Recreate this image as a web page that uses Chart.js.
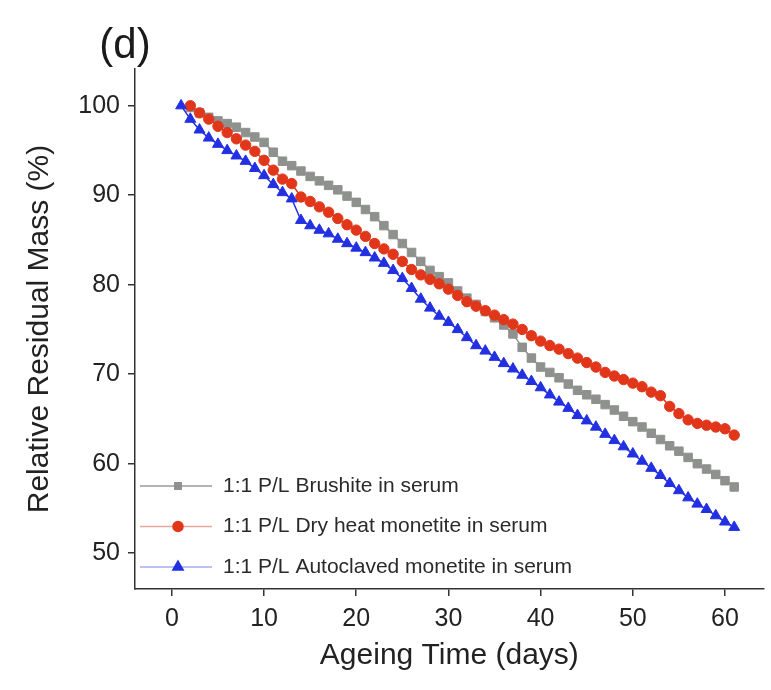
<!DOCTYPE html>
<html>
<head>
<meta charset="utf-8">
<script src="https://cdn.jsdelivr.net/npm/chart.js@4.4.1/dist/chart.umd.min.js"></script>
<style>
  html, body { margin: 0; padding: 0; background: #ffffff; }
  #wrap { width: 771px; height: 690px; position: relative; }
</style>
</head>
<body>
<div id="wrap"><canvas id="c"></canvas></div>
<script>
// ---------- data ----------
const days = [1,2,3,4,5,6,7,8,9,10,11,12,13,14,15,16,17,18,19,20,
              21,22,23,24,25,26,27,28,29,30,31,32,33,34,35,36,37,38,39,40,
              41,42,43,44,45,46,47,48,49,50,51,52,53,54,55,56,57,58,59,60,61];

const xTicks = [0, 10, 20, 30, 40, 50, 60];
const yTicks = [50, 60, 70, 80, 90, 100];

const seriesLabels = [
  '1:1 P/L Brushite in serum',
  '1:1 P/L Dry heat monetite in serum',
  '1:1 P/L Autoclaved monetite in serum'
];

const brushite = [null,99.8,99.2,98.7,98.3,98.0,97.6,97.0,96.5,95.9,
                  94.8,93.8,93.3,92.7,92.1,91.6,91.1,90.6,89.9,89.2,
                  88.4,87.6,86.6,85.6,84.6,83.6,82.6,81.6,80.9,80.2,
                  79.3,78.5,77.8,77.0,76.3,75.5,74.5,73.0,71.8,70.8,
                  70.2,69.6,68.9,68.2,67.7,67.2,66.6,66.0,65.3,64.7,
                  64.1,63.4,62.7,62.0,61.4,60.7,60.0,59.4,58.8,58.1,57.4];

const dryHeat = [null,100.0,99.2,98.5,97.7,97.0,96.3,95.6,94.9,93.9,
                 92.8,91.8,91.3,89.8,89.3,88.7,88.1,87.4,86.7,86.1,
                 85.4,84.6,84.0,83.4,82.6,81.7,81.1,80.6,80.1,79.5,
                 78.8,78.1,77.6,77.1,76.6,76.1,75.6,75.0,74.3,73.7,
                 73.2,72.8,72.3,71.8,71.3,70.8,70.2,69.8,69.4,69.0,
                 68.6,68.0,67.6,66.4,65.6,64.9,64.5,64.3,64.1,63.9,63.2];

const autoclaved = [100.0,98.5,97.3,96.4,95.7,95.0,94.4,93.8,93.0,92.2,
                    91.2,90.3,89.6,87.2,86.6,86.1,85.7,85.1,84.6,84.1,
                    83.6,83.0,82.4,81.6,80.7,79.6,78.4,77.4,76.5,75.8,
                    75.0,74.1,73.2,72.6,71.9,71.2,70.6,69.9,69.2,68.5,
                    67.7,66.9,66.2,65.4,64.8,64.1,63.3,62.6,61.9,61.1,
                    60.3,59.5,58.7,57.8,57.0,56.2,55.5,54.9,54.2,53.5,52.9];

const panelLabel = '(d)';
const xTitle = 'Ageing Time (days)';
const yTitle = 'Relative Residual Mass (%)';

// ---------- chart ----------
const FONT = '"Liberation Sans", Arial, Helvetica, sans-serif';
const toPoints = (vals) => days.map((d, i) => ({ x: d, y: vals[i] }));

const overlay = {
  id: 'overlay',
  afterDraw(chart) {
    const ctx = chart.ctx;
    const area = chart.chartArea;
    ctx.save();
    // panel label
    ctx.fillStyle = '#1a1a1a';
    ctx.font = '42px ' + FONT;
    ctx.textAlign = 'center';
    ctx.textBaseline = 'middle';
    ctx.fillText(panelLabel, 125, 46);

    // legend (inside plot, lower-left)
    const rowGap = 40.5;
    const lastRow = area.bottom - 22;
    const n = chart.data.datasets.length;
    chart.data.datasets.forEach((ds, i) => {
      const y = lastRow - (n - 1 - i) * rowGap;
      ctx.strokeStyle = ds.legendLine;
      ctx.lineWidth = 1.5;
      ctx.beginPath();
      ctx.moveTo(area.left + 5, y);
      ctx.lineTo(area.left + 77, y);
      ctx.stroke();
      ctx.fillStyle = ds.pointBackgroundColor;
      ctx.strokeStyle = ds.pointBorderColor;
      Chart.helpers.drawPoint(ctx, {
        pointStyle: ds.pointStyle,
        radius: ds.legendRadius,
        borderWidth: 1,
        rotation: 0
      }, area.left + 43, y);
      ctx.fillStyle = '#2a2a2a';
      ctx.font = '21px ' + FONT;
      ctx.textAlign = 'left';
      ctx.textBaseline = 'middle';
      ctx.fillText(ds.label, area.left + 88, y);
    });
    ctx.restore();
  }
};

const mk = (label, vals, color, lineCol, style, r, lr, order) => ({
  label: label,
  data: toPoints(vals),
  showLine: true,
  borderColor: color,
  borderWidth: 1.5,
  backgroundColor: color,
  pointBackgroundColor: color,
  pointBorderColor: color,
  pointBorderWidth: 1,
  pointStyle: style,
  pointRadius: r,
  legendRadius: lr,
  legendLine: lineCol,
  order: order
});

new Chart(document.getElementById('c'), {
  type: 'scatter',
  data: {
    datasets: [
      mk(seriesLabels[0], brushite,   '#8e918e', '#9a9a9a', 'rect',     6,   4.5, 3),
      mk(seriesLabels[1], dryHeat,    '#e2361a', '#e6a9a0', 'circle',   5.2, 5,   2),
      mk(seriesLabels[2], autoclaved, '#2230e2', '#a6acf2', 'triangle', 6.3, 6,   1)
    ]
  },
  options: {
    responsive: true,
    maintainAspectRatio: false,
    animation: false,
    devicePixelRatio: 1,
    layout: { padding: { top: 69, left: 0, right: 0, bottom: 0 } },
    plugins: {
      legend: { display: false },
      tooltip: { enabled: false },
      title: { display: false }
    },
    scales: {
      x: {
        type: 'linear',
        min: -4,
        max: 64.2,
        afterBuildTicks: (s) => { s.ticks = xTicks.map(v => ({ value: v })); },
        afterFit: (s) => { s.height = 101; },
        grid: { drawOnChartArea: false, drawTicks: true, tickLength: 7, color: '#333', lineWidth: 1.5 },
        border: { display: true, color: '#333', width: 1.5 },
        ticks: { font: { family: FONT, size: 25 }, color: '#222', padding: 8, maxRotation: 0 },
        title: { display: true, text: xTitle, font: { family: FONT, size: 30 }, color: '#222',
                 padding: { top: 0, bottom: 16 } }
      },
      y: {
        type: 'linear',
        min: 46,
        max: 104.1,
        afterBuildTicks: (s) => { s.ticks = yTicks.map(v => ({ value: v })); },
        afterFit: (s) => { s.width = 135; },
        grid: { drawOnChartArea: false, drawTicks: true, tickLength: 7, color: '#333', lineWidth: 1.5 },
        border: { display: true, color: '#333', width: 1.5 },
        ticks: { font: { family: FONT, size: 25 }, color: '#222', padding: 8 },
        title: { display: true, text: yTitle, font: { family: FONT, size: 30 }, color: '#222',
                 padding: { top: 22, bottom: 0 } }
      }
    }
  },
  plugins: [overlay]
});
</script>
</body>
</html>
